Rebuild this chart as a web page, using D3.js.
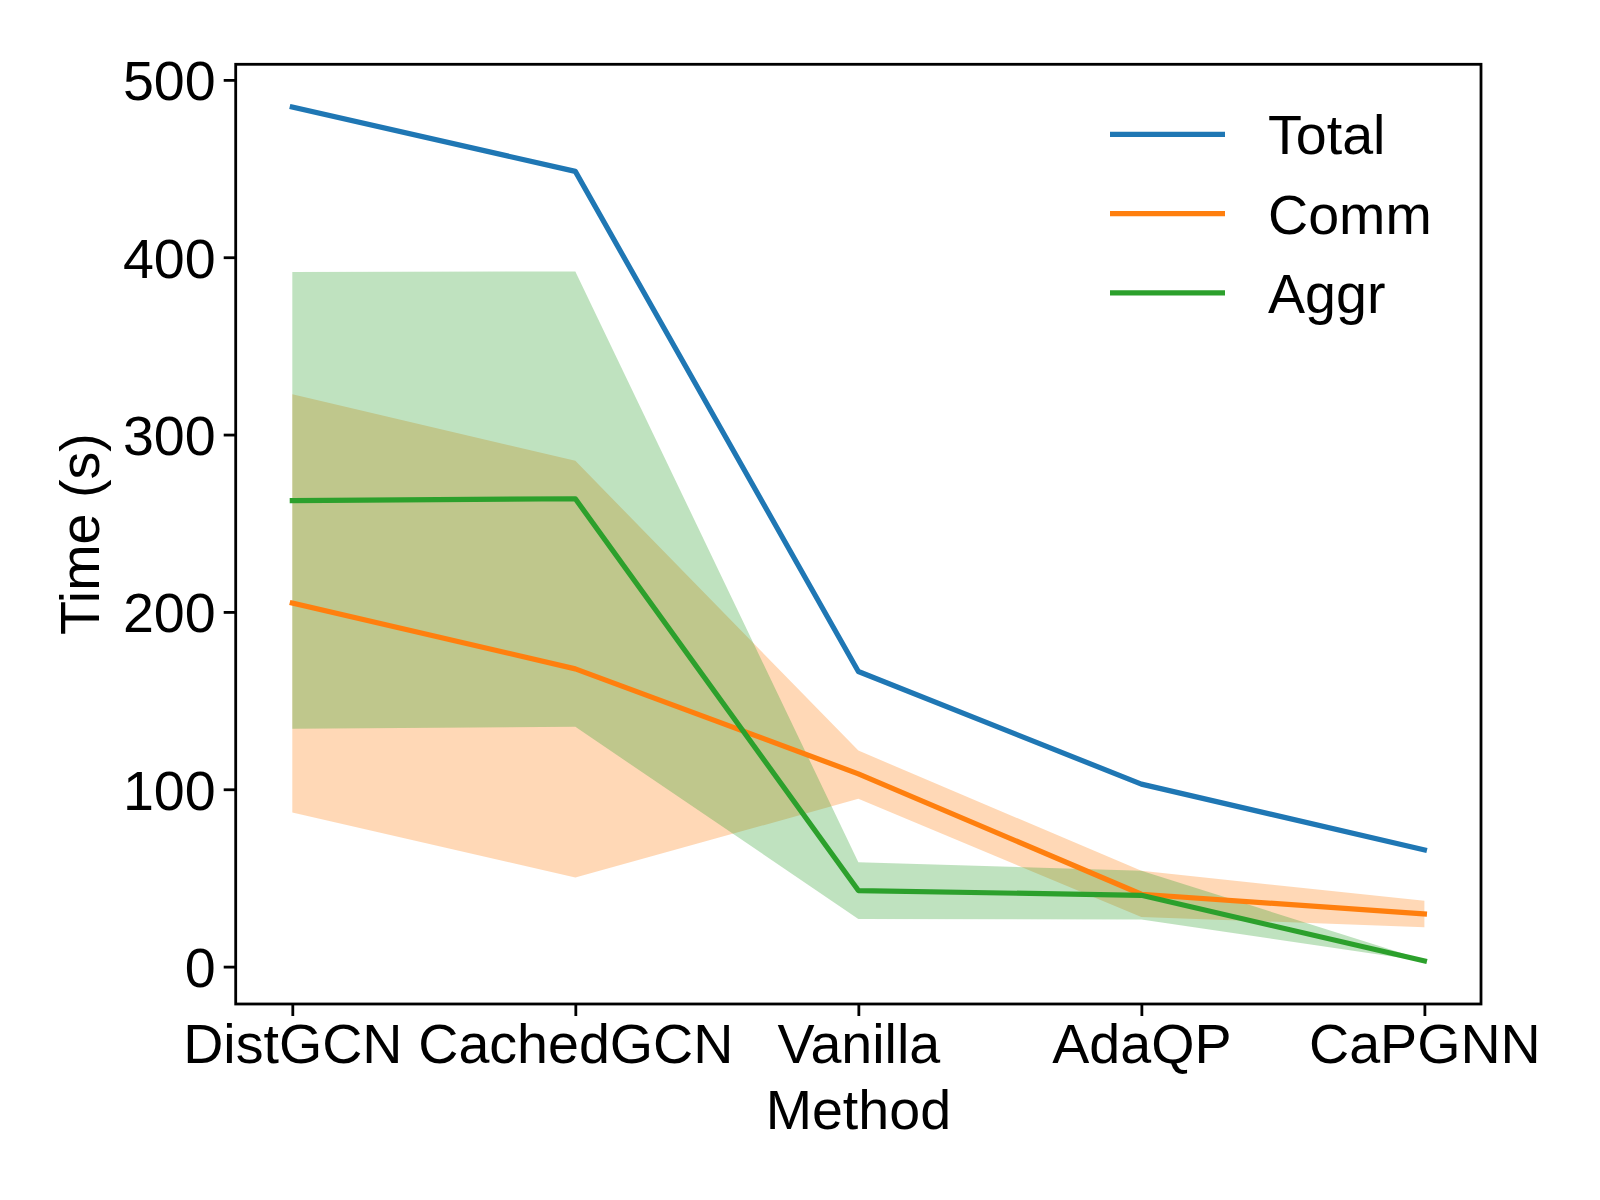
<!DOCTYPE html>
<html>
<head>
<meta charset="utf-8">
<script src="https://cdn.jsdelivr.net/npm/d3@7"></script>
<style>
  body { margin: 0; background: #fff; }
  svg text { font-family: "Liberation Sans", Arial, sans-serif; fill: #000; }
</style>
</head>
<body>
<script>
// values
const methods = ["DistGCN", "CachedGCN", "Vanilla", "AdaQP", "CaPGNN"];
const total   = [484.7, 448.4, 166.4, 102.9, 65.8];
const comm    = [205.0, 167.9, 108.7, 40.8, 29.7];
const commLo  = [86.9, 50.2, 94.6, 28.0, 22.2];
const commHi  = [322.8, 285.2, 121.8, 54.0, 37.1];
const aggr    = [262.8, 263.8, 42.9, 40.2, 3.2];
const aggrLo  = [134.1, 135.2, 26.9, 26.6, 3.0];
const aggrHi  = [391.6, 392.0, 58.9, 54.0, 3.6];
const yTicks  = [0, 100, 200, 300, 400, 500];

(function () {
  const width = 1600, height = 1200;
  const mLeft = 235.7, mRight = 1481, mTop = 64.3, mBottom = 1004;
  const fs = 55.6;       // 16pt at 250 dpi
  const tickLen = 12, tickW = 2.8, lineW = 5.2;

  const svg = d3.select("body").append("svg")
    .attr("width", width).attr("height", height);

  // x: categorical positions with 5% margins like matplotlib
  let x = d3.scaleLinear().domain([-0.2, methods.length - 1 + 0.2]).range([mLeft, mRight]);

  let allVals = [].concat(total, comm, commLo, commHi, aggr, aggrLo, aggrHi);
  let lo = d3.min(allVals), hi = d3.max(allVals), pad = (hi - lo) * 0.05;
  let y = d3.scaleLinear().domain([lo - pad, hi + pad]).range([mBottom, mTop]);

  let area = (loArr, hiArr) => d3.area()
    .x((d, i) => x(i)).y0((d, i) => y(loArr[i])).y1((d, i) => y(hiArr[i]));
  let line = d3.line().x((d, i) => x(i)).y(d => y(d));

  // bands first (below lines)
  svg.append("path").datum(methods).attr("d", area(commLo, commHi))
    .attr("fill", "#ff7f0e").attr("fill-opacity", 0.3);
  svg.append("path").datum(methods).attr("d", area(aggrLo, aggrHi))
    .attr("fill", "#2ca02c").attr("fill-opacity", 0.3);

  let series = [
    {name: "Total", vals: total, color: "#1f77b4"},
    {name: "Comm", vals: comm, color: "#ff7f0e"},
    {name: "Aggr", vals: aggr, color: "#2ca02c"}
  ];
  series.forEach(s => {
    svg.append("path").datum(s.vals).attr("d", line)
      .attr("fill", "none").attr("stroke", s.color)
      .attr("stroke-width", lineW).attr("stroke-linecap", "square")
      .attr("stroke-linejoin", "round");
  });

  // axes
  let xAxis = d3.axisBottom(x).tickValues(d3.range(methods.length))
    .tickFormat(i => methods[i]).tickSize(tickLen).tickPadding(10);
  let gx = svg.append("g").attr("transform", `translate(0,${mBottom})`).call(xAxis);
  gx.select(".domain").remove();
  gx.selectAll("line").attr("stroke-width", tickW);
  gx.selectAll("text").attr("font-size", fs).attr("dy", "0.66em")
    .attr("font-family", "Liberation Sans, Arial, sans-serif");

  let yAxis = d3.axisLeft(y).tickValues(yTicks).tickSize(tickLen).tickPadding(8);
  let gy = svg.append("g").attr("transform", `translate(${mLeft},0)`).call(yAxis);
  gy.select(".domain").remove();
  gy.selectAll("line").attr("stroke-width", tickW);
  gy.selectAll("text").attr("font-size", fs).attr("dy", "0.36em")
    .attr("font-family", "Liberation Sans, Arial, sans-serif");

  // frame
  svg.append("rect").attr("x", mLeft).attr("y", mTop)
    .attr("width", mRight - mLeft).attr("height", mBottom - mTop)
    .attr("fill", "none").attr("stroke", "#000").attr("stroke-width", tickW);

  // axis labels
  svg.append("text").attr("x", (mLeft + mRight) / 2).attr("y", 1129)
    .attr("text-anchor", "middle").attr("font-size", fs).text("Method");
  svg.append("text")
    .attr("transform", `translate(99,${(mTop + mBottom) / 2}) rotate(-90)`)
    .attr("text-anchor", "middle").attr("font-size", fs).text("Time (s)");

  // legend
  let lg = svg.append("g").attr("transform", "translate(1110,134.3)");
  series.forEach((s, i) => {
    let row = lg.append("g").attr("transform", `translate(0,${i * 79.3})`);
    row.append("line").attr("x1", 0).attr("x2", 115)
      .attr("stroke", s.color).attr("stroke-width", lineW);
    row.append("text").attr("x", 158).attr("y", 0).attr("dy", "0.36em")
      .attr("font-size", fs).text(s.name);
  });
})();
</script>
</body>
</html>
